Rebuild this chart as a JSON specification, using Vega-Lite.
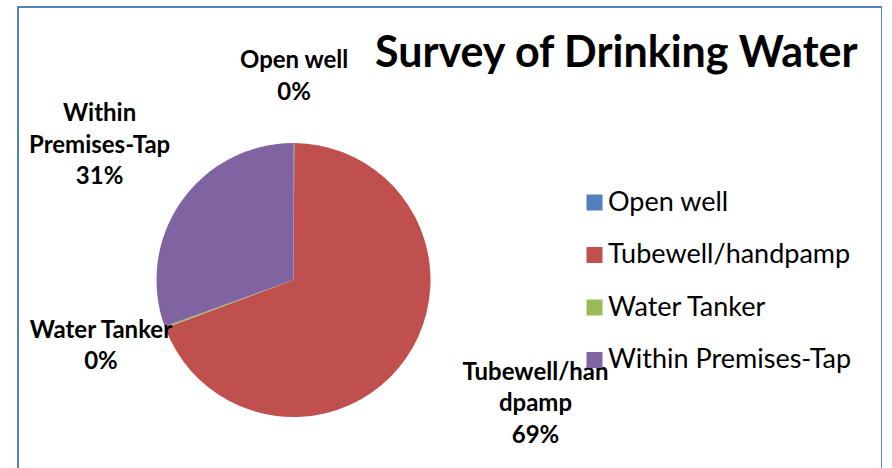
{
  "$schema": "https://vega.github.io/schema/vega-lite/v6.json",
  "width": 864,
  "height": 600,
  "autosize": {"type": "none"},
  "padding": {"left": 18, "top": 7, "right": 0, "bottom": 0},
  "background": "white",
  "config": {
    "view": {"stroke": "#4F81BD", "strokeWidth": 2},
    "font": "Lato"
  },
  "title": {
    "text": "Survey of Drinking Water",
    "anchor": "start",
    "frame": "group",
    "orient": "none",
    "baseline": "alphabetic",
    "dx": 357,
    "dy": 60,
    "font": "Lato",
    "fontSize": 43,
    "fontWeight": "bold",
    "color": "black"
  },
  "data": {
    "values": [
      {"source": "Open well", "share": 0.1, "label": "Open well\n0%"},
      {"source": "Tubewell/handpamp", "share": 69.2, "label": "Tubewell/han\ndpamp\n69%"},
      {"source": "Water Tanker", "share": 0.2, "label": "Water Tanker\n0%"},
      {"source": "Within Premises-Tap", "share": 30.5, "label": "Within\nPremises-Tap\n31%"}
    ]
  },
  "encoding": {
    "theta": {"field": "share", "type": "quantitative", "stack": true},
    "x": {"value": 275.5},
    "y": {"value": 273}
  },
  "layer": [
    {
      "mark": {"type": "arc", "outerRadius": 137},
      "encoding": {
        "color": {
          "field": "source",
          "type": "nominal",
          "scale": {
            "domain": ["Open well", "Tubewell/handpamp", "Water Tanker", "Within Premises-Tap"],
            "range": ["#4F81BD", "#C0504D", "#9BBB59", "#8064A2"]
          },
          "legend": {
            "title": null,
            "orient": "none",
            "legendX": 563,
            "legendY": 182,
            "symbolType": "square",
            "symbolSize": 256,
            "symbolStrokeWidth": 0,
            "labelFont": "Lato",
            "labelFontSize": 27,
            "labelColor": "black",
            "labelOffset": 0,
            "rowPadding": 24.5,
            "padding": 0,
            "labelLimit": 400
          }
        }
      }
    },
    {
      "mark": {"type": "text", "radius": 203, "dy": -15.75, "fontSize": 24, "fontWeight": "bold", "lineBreak": "\n", "lineHeight": 31.5, "align": "center", "baseline": "middle", "color": "black"},
      "encoding": {
        "detail": {"field": "source", "type": "nominal"},
        "text": {"condition": {"test": "datum.source === 'Open well'", "field": "label"}, "value": ""}
      }
    },
    {
      "mark": {"type": "text", "radius": 203, "dx": -2, "dy": -19, "fontSize": 24, "fontWeight": "bold", "lineBreak": "\n", "lineHeight": 31.5, "align": "center", "baseline": "middle", "color": "black"},
      "encoding": {
        "detail": {"field": "source", "type": "nominal"},
        "text": {"condition": {"test": "datum.source === 'Water Tanker'", "field": "label"}, "value": ""}
      }
    },
    {
      "mark": {"type": "text", "radius": 237, "dy": -29.5, "fontSize": 24, "fontWeight": "bold", "lineBreak": "\n", "lineHeight": 31.5, "align": "center", "baseline": "middle", "color": "black"},
      "encoding": {
        "detail": {"field": "source", "type": "nominal"},
        "text": {"condition": {"test": "datum.source === 'Within Premises-Tap'", "field": "label"}, "value": ""}
      }
    },
    {
      "mark": {"type": "text", "radius": 250, "dx": 37, "dy": -50.5, "fontSize": 24, "fontWeight": "bold", "lineBreak": "\n", "lineHeight": 31.5, "align": "center", "baseline": "middle", "color": "black"},
      "encoding": {
        "detail": {"field": "source", "type": "nominal"},
        "text": {"condition": {"test": "datum.source === 'Tubewell/handpamp'", "field": "label"}, "value": ""}
      }
    }
  ]
}
